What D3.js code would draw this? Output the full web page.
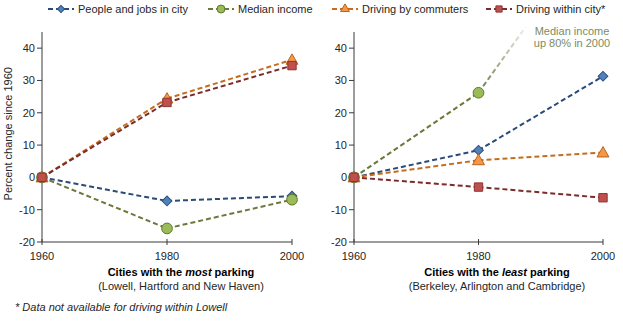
<!DOCTYPE html>
<html>
<head>
<meta charset="utf-8">
<script src="https://cdn.jsdelivr.net/npm/d3@7"></script>
<style>
  body { margin: 0; background: #fff; }
  svg { display: block; font-family: "Liberation Sans", Arial, sans-serif; }
</style>
</head>
<body>
<svg width="623" height="327"></svg>
<script>
const years = [1960, 1980, 2000];
const yTicks = [-20, -10, 0, 10, 20, 30, 40];
const seriesNames = ['People and jobs in city', 'Median income', 'Driving by commuters', 'Driving within city*'];

// percent change since 1960, cities with the most parking
const mostPeople = [0, -7.3, -5.8];
const mostIncome = [0, -15.8, -6.9];
const mostCommute = [0, 24.4, 36.4];
const mostWithin = [0, 23.2, 34.6];

// percent change since 1960, cities with the least parking
const leastPeople = [0, 8.4, 31.3];
const leastIncome = [0, 26.2, 80];
const leastCommute = [0, 5.3, 7.7];
const leastWithin = [0, -3.0, -6.3];

// diamonds are squares turned 45 degrees
const styles = [
  {line: '#2b4a78', fill: '#4f81bd', stroke: '#2f4f7f', shape: d3.symbolSquare, size: 48, rot: 45},
  {line: '#6b7a3c', fill: '#9bbb59', stroke: '#5f7a2c', shape: d3.symbolCircle, size: 90, rot: 0},
  {line: '#c46d1f', fill: '#f79646', stroke: '#b5661f', shape: d3.symbolTriangle, size: 62, rot: 0},
  {line: '#7b2b29', fill: '#c0504d', stroke: '#8c3330', shape: d3.symbolSquare, size: 70, rot: 0}
];

const svg = d3.select('svg');
const axisColor = '#3a3a3a';
const textColor = '#262626';

const y = d3.scaleLinear().domain([-20, 45]).range([242, 32]);

const defs = svg.append('defs');
defs.append('clipPath').attr('id', 'plotclip')
  .append('rect').attr('x', 0).attr('y', 27).attr('width', 623).attr('height', 240);

// fade for the median income line leaving the top of the right panel
const fade = defs.append('linearGradient').attr('id', 'fade')
  .attr('gradientUnits', 'userSpaceOnUse')
  .attr('x1', 0).attr('y1', y(26.2)).attr('x2', 0).attr('y2', 28);
fade.append('stop').attr('offset', 0).attr('stop-color', '#6b7a3c');
fade.append('stop').attr('offset', 1).attr('stop-color', '#eeeeee');

function panel(x0, x1, data, title, subtitle, titleX) {
  const x = d3.scalePoint().domain(years).range([x0, x1]);
  const g = svg.append('g');

  // y axis
  g.append('line').attr('x1', x0).attr('x2', x0).attr('y1', y(45)).attr('y2', y(-20))
    .attr('stroke', axisColor);
  yTicks.forEach(t => {
    g.append('line').attr('x1', x0 - 5).attr('x2', x0).attr('y1', y(t)).attr('y2', y(t))
      .attr('stroke', axisColor);
    g.append('text').attr('x', x0 - 7).attr('y', y(t)).attr('dy', '0.35em')
      .attr('text-anchor', 'end').attr('font-size', 11).attr('fill', textColor).text(t);
  });

  // x axis along the bottom
  g.append('line').attr('x1', x0).attr('x2', x1).attr('y1', y(-20)).attr('y2', y(-20))
    .attr('stroke', axisColor);
  years.forEach(yr => {
    g.append('line').attr('x1', x(yr)).attr('x2', x(yr)).attr('y1', y(-20) - 3).attr('y2', y(-20) + 3)
      .attr('stroke', axisColor);
    g.append('text').attr('x', x(yr)).attr('y', y(-20) + 14).attr('dy', '0.35em')
      .attr('text-anchor', 'middle').attr('font-size', 11).attr('fill', textColor).text(yr);
  });

  const t1 = g.append('text').attr('x', titleX).attr('y', 276).attr('text-anchor', 'middle')
    .attr('font-size', 11).attr('font-weight', 'bold').attr('fill', '#000');
  t1.append('tspan').text(title[0]);
  t1.append('tspan').attr('font-style', 'italic').text(title[1]);
  t1.append('tspan').text(title[2]);
  g.append('text').attr('x', titleX).attr('y', 290).attr('text-anchor', 'middle')
    .attr('font-size', 11).attr('fill', textColor).text(subtitle);

  const plot = g.append('g').attr('clip-path', 'url(#plotclip)');

  data.forEach((vals, k) => {
    const s = styles[k];
    // split each series into segments so a segment leaving the chart can fade out
    for (let i = 1; i < vals.length; i++) {
      const leaves = vals[i] > 45;
      plot.append('line')
        .attr('x1', x(years[i - 1])).attr('y1', y(vals[i - 1]))
        .attr('x2', x(years[i])).attr('y2', y(vals[i]))
        .attr('stroke', leaves ? 'url(#fade)' : s.line)
        .attr('stroke-width', 2).attr('stroke-dasharray', '5,3');
    }
  });
  data.forEach((vals, k) => {
    const s = styles[k];
    vals.forEach((v, i) => {
      if (v > 45) return;
      plot.append('path').attr('d', d3.symbol(s.shape, s.size)())
        .attr('transform', `translate(${x(years[i])},${y(v) + (s.shape === d3.symbolTriangle ? 1 : 0)}) rotate(${s.rot})`)
        .attr('fill', s.fill).attr('stroke', s.stroke).attr('stroke-width', 1);
    });
  });
  return x;
}

panel(42, 292, [mostPeople, mostIncome, mostCommute, mostWithin],
  ['Cities with the ', 'most', ' parking'], '(Lowell, Hartford and New Haven)', 181);
panel(354, 603, [leastPeople, leastIncome, leastCommute, leastWithin],
  ['Cities with the ', 'least', ' parking'], '(Berkeley, Arlington and Cambridge)', 497);

// y axis title
svg.append('text').attr('transform', `translate(12,${y(13.5)}) rotate(-90)`)
  .attr('text-anchor', 'middle').attr('font-size', 11).attr('fill', textColor)
  .text('Percent change since 1960');

// note on the median income line
const note = svg.append('text').attr('x', 572).attr('y', 35).attr('text-anchor', 'middle')
  .attr('font-size', 11).attr('fill', '#7d8b63');
note.append('tspan').attr('x', 572).attr('dy', 0).text('Median income');
note.append('tspan').attr('x', 572).attr('dy', 12).text('up 80% in 2000');

// legend
const legendX = [48, 208, 332, 486];
seriesNames.forEach((name, k) => {
  const s = styles[k];
  const lg = svg.append('g').attr('transform', `translate(${legendX[k]},9)`);
  lg.append('line').attr('x1', 0).attr('x2', 26).attr('y1', 0).attr('y2', 0)
    .attr('stroke', s.line).attr('stroke-width', 2).attr('stroke-dasharray', '5,3');
  lg.append('path').attr('d', d3.symbol(s.shape, s.size * 0.55)())
    .attr('transform', `translate(13,0) rotate(${s.rot})`)
    .attr('fill', s.fill).attr('stroke', s.stroke);
  lg.append('text').attr('x', 30).attr('dy', '0.35em').attr('font-size', 11)
    .attr('fill', textColor).text(name);
});

// footnote
svg.append('text').attr('x', 15).attr('y', 311).attr('font-size', 11).attr('font-style', 'italic')
  .attr('fill', textColor).text('* Data not available for driving within Lowell');
</script>
</body>
</html>
